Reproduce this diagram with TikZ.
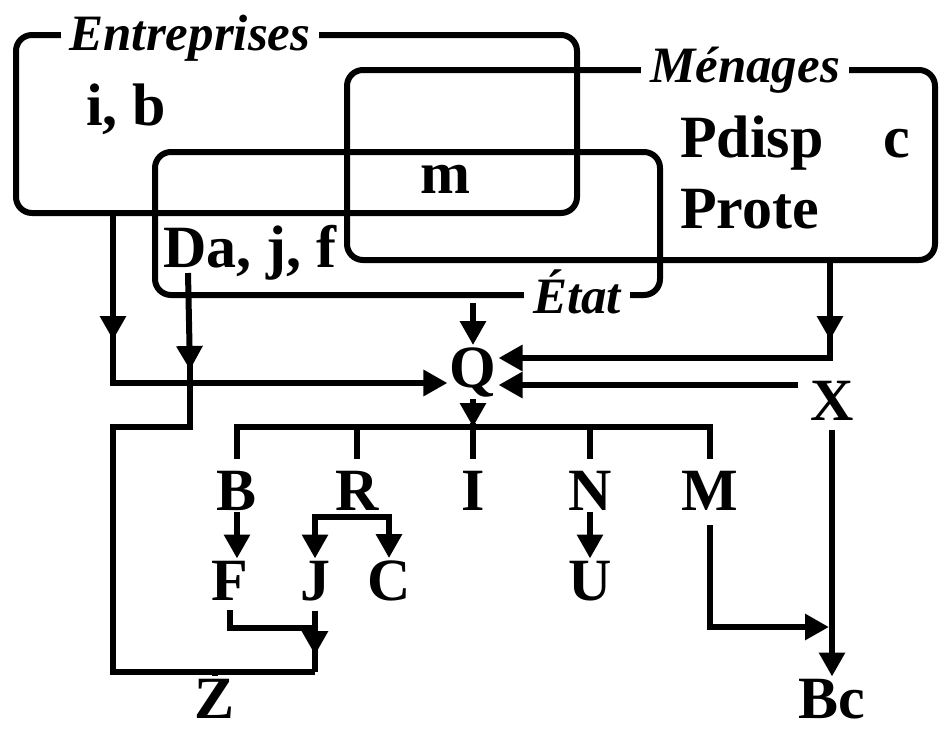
\documentclass[tikz,border=0pt]{standalone}
\usepackage{fontspec}
\setmainfont{Liberation Serif}
\usetikzlibrary{arrows.meta, positioning}

\begin{document}
\begin{tikzpicture}[
    x=1pt, y=-1pt,
    sect/.style={draw, rounded corners=16pt, inner sep=0pt, line width=6pt},
    ttl/.style={fill=white, inner xsep=9pt, inner ysep=4pt, anchor=base, font=\fontsize{51}{51}\selectfont\bfseries\itshape},
    var/.style={inner sep=2pt, anchor=base, font=\fontsize{60}{60}\selectfont\bfseries},
    arr/.style={-{Triangle[width=25pt,length=24pt]}, line width=6pt},
    wire/.style={line width=6pt}
]
\useasboundingbox (0,0) rectangle (940,734);

% secteurs
\node[sect, minimum width=561pt, minimum height=178pt] (ent) at (296.5,124) {};
\node[sect, minimum width=588pt, minimum height=190pt] (men) at (641,165) {};
\node[sect, minimum width=505pt, minimum height=143pt] (eta) at (407.5,223.5) {};
\node[ttl] (entT) at (190,50) {Entreprises};
\node[ttl] (menT) at (745,82) {Ménages};
\node[ttl] (etaT) at (577,313) {État};

\node[var, anchor=base west] (ib) at (84,125) {i, b};
\node[var, anchor=base west] (m) at (418,193) {m};
\node[var, anchor=base west] (da) at (161,267) {Da, j, f};
\node[var, anchor=base west] (pdisp) at (678,157) {Pdisp};
\node[var, anchor=base west] (c) at (881,157) {c};
\node[var, anchor=base west] (prote) at (678,228) {Prote};

% variables
\node[var] (q) at (473,387) {Q};
\node[var] (x) at (832,420) {X};
\node[var] (b) at (237,510) {B};
\node[var] (r) at (357,510) {R};
\node[var] (i) at (473,510) {I};
\node[var] (n) at (590,510) {N};
\node[var] (mm) at (710,510) {M};
\node[var] (f) at (230,600) {F};
\node[var] (j) at (315,600) {J};
\node[var] (cc) at (389,600) {C};
\node[var] (u) at (590,600) {U};
\node[var] (z) at (215,718) {Z};
\node[var] (bc) at (832,718) {Bc};

\coordinate (e1) at (113,340);
\coordinate (m1) at (830,340);
\coordinate (bus) at (473,427);
\coordinate (rs) at (357,517);
\coordinate (fj) at (315,628);
\coordinate (zb) at (315,672);
\coordinate (mx) at (829,627);
\coordinate (d1) at (190,370);

% vers Q
\draw[arr] (ent.south -| e1) -- (e1);
\draw[arr] ([yshift=8pt]e1) |- (q.west |- 0,383);
\draw[arr] ([yshift=-5pt]eta.south -| q) -- (q.north);
\draw[arr] (men.south -| m1) -- (m1);
\draw[arr] ([yshift=8pt]m1) |- (q.east |- 0,358);
\draw[arr] ([xshift=-10pt]x.west |- 0,385) -- (q.east |- 0,385);

% repartition
\draw[arr] (q.south) -- (bus);
\draw[wire] ([yshift=10pt]b.north) |- (bus) -| ([yshift=10pt]mm.north);
\draw[wire] ([yshift=10pt]r.north) -- (r.north |- bus);
\draw[wire] ([yshift=10pt]i.north) -- ([yshift=4pt]bus);
\draw[wire] ([yshift=10pt]n.north) -- (n.north |- bus);

\draw[arr] (b.south) -- (b.south |- f.north);
\draw[arr] (rs) -| (j.north);
\draw[arr] (rs) -| (cc.north);
\draw[arr] (n.south) -- (u.north);

% Z
\draw[arr] ([xshift=27pt, yshift=-6pt]da.base west) -- (d1);
\draw[wire] ([yshift=8pt]d1) |- (113,427) |- (zb);
\draw[wire] ([yshift=-8pt]f.south) |- (fj);
\draw[arr] ([yshift=-8pt]j.south) -- (315,655);
\draw[wire] (315,647) -- (zb);
\draw[wire] (z.north |- zb) -- ([yshift=1pt]z.north);

% Bc
\draw[arr] ([yshift=-13pt]mm.south) |- (mx);
\draw[arr] ([yshift=-8pt]x.south) -- (bc.north);
\end{tikzpicture}
\end{document}
